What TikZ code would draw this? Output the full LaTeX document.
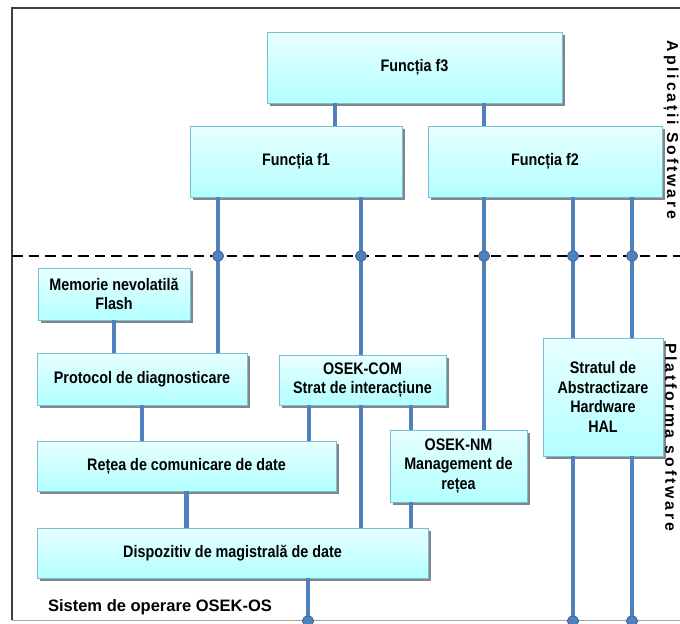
\documentclass[tikz,border=0pt]{standalone}
\usepackage{fontspec}
\setmainfont{Liberation Sans}
\newfontfamily\narrowfont{Liberation Sans}[FakeStretch=0.86]
\newfontfamily\widefont{Liberation Sans}[LetterSpace=18]
\usetikzlibrary{positioning,shadows,shapes.geometric}
\definecolor{busblue}{RGB}{79,129,189}
\definecolor{boxline}{RGB}{120,190,215}

\begin{document}
\begin{tikzpicture}[
        x=0.02cm, y=-0.02cm,
        % Styles
        modul/.style={rectangle, draw=boxline, thin, top color=cyan!9, bottom color=cyan!30, align=center, inner sep=2pt,
            font=\narrowfont\bfseries\fontsize{9.5}{11.2}\selectfont,
            drop shadow={shadow xshift=1.6pt, shadow yshift=-1.6pt, opacity=0.6, fill=black!80}},
        bus/.style={line width=2.3pt, color=busblue},
        joint/.style={ellipse, fill=busblue, draw=busblue!75!black, thin, inner sep=0pt, minimum width=6.5pt, minimum height=5.8pt},
        layer/.style={rotate=-90, font=\widefont\bfseries\fontsize{9}{10}\selectfont},
        border/.style={line width=0.8pt, color=black!75}
    ]
    \useasboundingbox (0,0) rectangle (680,623);
    \clip (0,0) rectangle (680,623);

    % ================= FRAME =================
    \draw[border] (12,620) -- (12,8) -- (680,8);
    \draw[black!35, thin] (12,620) -- (680,620);
    \draw[black, line width=1.4pt, dash pattern=on 6pt off 3.4pt] (12,256) -- (680,256);

    % junctions on the separation line and at the bottom
    \coordinate (j1) at (218,256);
    \coordinate (j2) at (361,256);
    \coordinate (j3) at (484,256);
    \coordinate (j4) at (573,256);
    \coordinate (j5) at (632,256);
    \coordinate (b1) at (308,621);
    \coordinate (b2) at (573,621);
    \coordinate (b3) at (632,621);

    % ================= APPLICATIONS =================
    \node[modul, minimum width=5.9cm, minimum height=1.42cm] (f3) at (414.5,67.5) {Funcția f3};
    \node[modul, minimum width=4.24cm, minimum height=1.42cm] (f1) at (296,161.5) {Funcția f1};
    \node[modul, minimum width=4.68cm, minimum height=1.42cm] (f2) at (545,161.5) {Funcția f2};

    % ================= PLATFORM =================
    \node[modul, minimum width=3.04cm, minimum height=1.04cm] (mem) at (114,294) {Memorie nevolatilă\\Flash};
    \node[modul, minimum width=4.2cm, minimum height=1.04cm] (diag) at (142,379) {Protocol de diagnosticare};
    \node[modul, minimum width=3.34cm, minimum height=1.0cm] (com) at (362.5,380) {OSEK-COM\\Strat de interacțiune};
    \node[modul, minimum width=5.98cm, minimum height=1.0cm] (retea) at (186.5,466) {Rețea de comunicare de date};
    \node[modul, minimum width=2.74cm, minimum height=1.44cm] (nm) at (458.5,466) {OSEK-NM\\Management de\\rețea};
    \node[modul, minimum width=2.4cm, minimum height=2.36cm] (hal) at (603,397) {Stratul de\\Abstractizare\\Hardware\\HAL};
    \node[modul, minimum width=7.82cm, minimum height=1.0cm] (disp) at (232.5,553) {Dispozitiv de magistrală de date};

    % Connections
    \draw[bus] ([xshift=1.36cm]f3.south west) -- ([xshift=1.36cm]f3.south west |- f1.north);
    \draw[bus] (f3.south -| j3) -- (f2.north -| j3);
    \draw[bus] (f1.south -| j1) -- (diag.north -| j1);
    \draw[bus] (f1.south -| j2) -- (com.north -| j2);
    \draw[bus] (com.south -| j2) -- (disp.north -| j2);
    \draw[bus] (f2.south -| j3) -- (nm.north -| j3);
    \draw[bus] (f2.south -| j4) -- (hal.north -| j4);
    \draw[bus] (f2.south -| j5) -- (hal.north -| j5);
    \draw[bus] (hal.south -| b2) -- (b2);
    \draw[bus] (hal.south -| b3) -- (b3);
    \draw[bus] (mem.south) -- (diag.north -| mem.south);
    \draw[bus] (diag.south) -- (retea.north -| diag.south);
    \draw[bus] (retea.south) -- (disp.north -| retea.south);
    \draw[bus] ([xshift=0.6cm]com.south west) -- ([xshift=0.6cm]com.south west |- retea.north);
    \draw[bus] ([xshift=0.42cm]nm.north west) -- ([xshift=0.42cm]nm.north west |- com.south);
    \draw[bus] ([xshift=0.42cm]nm.south west) -- ([xshift=0.42cm]nm.south west |- disp.north);
    \draw[bus] (disp.south -| b1) -- (b1);

    \foreach \j in {j1,j2,j3,j4,j5,b1,b2,b3}
        \node[joint] (d\j) at (\j) {};

    % Labels
    \node[font=\bfseries\fontsize{9.4}{11}\selectfont] (os) at (160,607) {Sistem de operare OSEK-OS};
    \node[layer] (app) at (671,130) {Aplicații Software};
    \node[layer] (plat) at (671,437) {Platforma software};

\end{tikzpicture}
\end{document}
